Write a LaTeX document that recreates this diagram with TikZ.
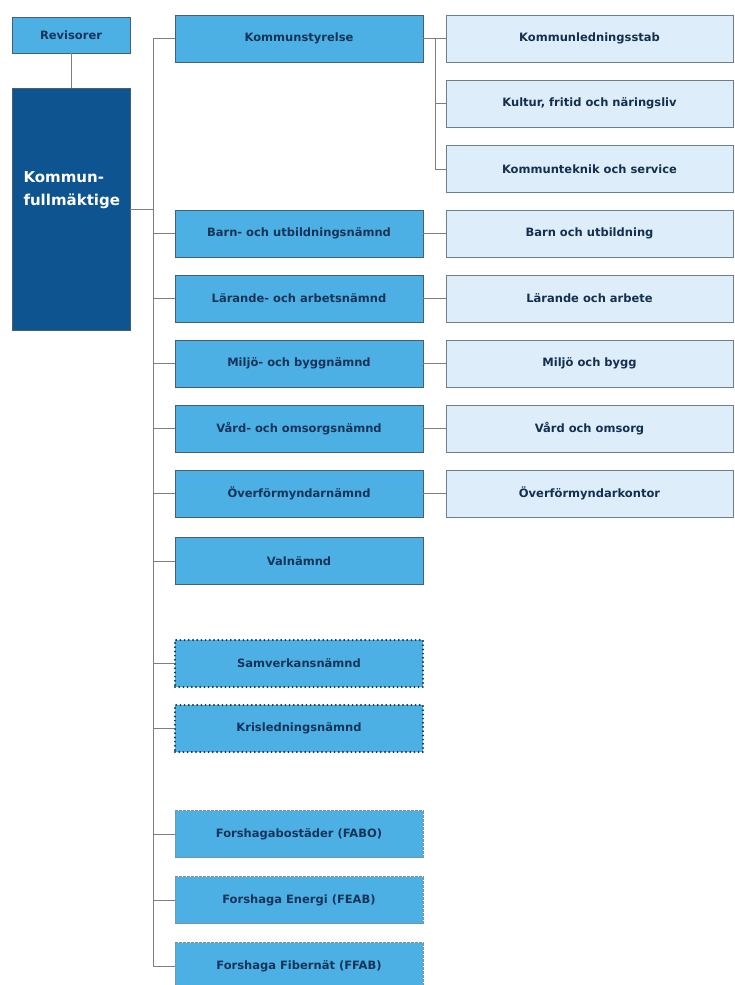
\documentclass[tikz,border=0pt]{standalone}
\usepackage{fontspec}
\setmainfont{DejaVu Sans}
\definecolor{bluefill}{RGB}{76,176,228}
\definecolor{lightfill}{RGB}{221,238,250}
\definecolor{kffill}{RGB}{14,84,145}
\definecolor{boxline}{RGB}{70,95,115}
\definecolor{txtcol}{RGB}{22,52,88}
\definecolor{linecol}{RGB}{125,125,125}
\tikzset{
  bluebox/.style={draw=boxline, line width=0.8pt, fill=bluefill, minimum width=248pt, minimum height=47pt, inner sep=0pt, text=txtcol, font=\bfseries\fontsize{11.5}{14}\selectfont},
  lightbox/.style={draw=boxline!80, line width=0.8pt, fill=lightfill, minimum width=287pt, minimum height=47pt, inner sep=0pt, text=txtcol!90!black, font=\bfseries\fontsize{11.5}{14}\selectfont},
  dotbox/.style={bluebox, draw=txtcol, line width=2.2pt, line cap=round, dash pattern=on 0pt off 4.2pt},
  dashbox/.style={bluebox, draw=boxline!70, line width=0.8pt, dash pattern=on 3pt off 1pt},
  conn/.style={draw=linecol, line width=0.9pt}
}
\begin{document}
\begin{tikzpicture}[x=1pt,y=-1pt]
\useasboundingbox[fill=white] (0,0) rectangle (734,985);
% left column
\node[bluebox, minimum width=118pt, minimum height=36pt, font=\bfseries\fontsize{11.5}{14}\selectfont] (rev) at (71,35) {Revisorer};
\node[draw=boxline, line width=0.8pt, fill=kffill, minimum width=118pt, minimum height=242pt, inner sep=0pt] (kf) at (71,209) {};
\node[anchor=west, text=white, font=\bfseries\fontsize{15}{23}\selectfont, align=left] (kft) at (20,190) {Kommun-\\fullmäktige};
% blue column
\node[bluebox] (ks) at (299,38.5) {Kommunstyrelse};
\node[bluebox] (bu) at (299,233.5) {Barn- och utbildningsnämnd};
\node[bluebox] (la) at (299,298.5) {Lärande- och arbetsnämnd};
\node[bluebox] (mb) at (299,363.5) {Miljö- och byggnämnd};
\node[bluebox] (vo) at (299,428.5) {Vård- och omsorgsnämnd};
\node[bluebox] (of) at (299,493.5) {Överförmyndarnämnd};
\node[bluebox] (val) at (299,561) {Valnämnd};
\node[dotbox] (sam) at (299,663.5) {Samverkansnämnd};
\node[dotbox] (kris) at (299,728.5) {Krisledningsnämnd};
\node[dashbox] (fabo) at (299,834) {Forshagabostäder (FABO)};
\node[dashbox] (feab) at (299,900) {Forshaga Energi (FEAB)};
\node[dashbox] (ffab) at (299,966) {Forshaga Fibernät (FFAB)};
% light column
\node[lightbox] (kl) at (589.5,38.5) {Kommunledningsstab};
\node[lightbox] (kfn) at (589.5,103.5) {Kultur, fritid och näringsliv};
\node[lightbox] (kts) at (589.5,169) {Kommunteknik och service};
\node[lightbox] (bo) at (589.5,233.5) {Barn och utbildning};
\node[lightbox] (loa) at (589.5,298.5) {Lärande och arbete};
\node[lightbox] (mob) at (589.5,363.5) {Miljö och bygg};
\node[lightbox] (voo) at (589.5,428.5) {Vård och omsorg};
\node[lightbox] (ofk) at (589.5,493.5) {Överförmyndarkontor};
% connectors
\coordinate (tx) at (153,0);
\coordinate (sx) at (435,0);
\draw[conn] (rev.south) -- (kf.north);
\draw[conn] (kf.east) -- (kf.east -| tx);
\draw[conn] (ks.west -| tx) -- (ffab.west -| tx);
\foreach \n in {ks,bu,la,mb,vo,of,val,sam,kris,fabo,feab,ffab}
  \draw[conn] (\n.west -| tx) -- (\n.west);
\draw[conn] (ks.east) -- (kl.west);
\draw[conn] (ks.east -| sx) -- (kts.west -| sx) -- (kts.west);
\draw[conn] (kfn.west -| sx) -- (kfn.west);
\draw[conn] (bu.east) -- (bo.west);
\draw[conn] (la.east) -- (loa.west);
\draw[conn] (mb.east) -- (mob.west);
\draw[conn] (vo.east) -- (voo.west);
\draw[conn] (of.east) -- (ofk.west);
\end{tikzpicture}
\end{document}
